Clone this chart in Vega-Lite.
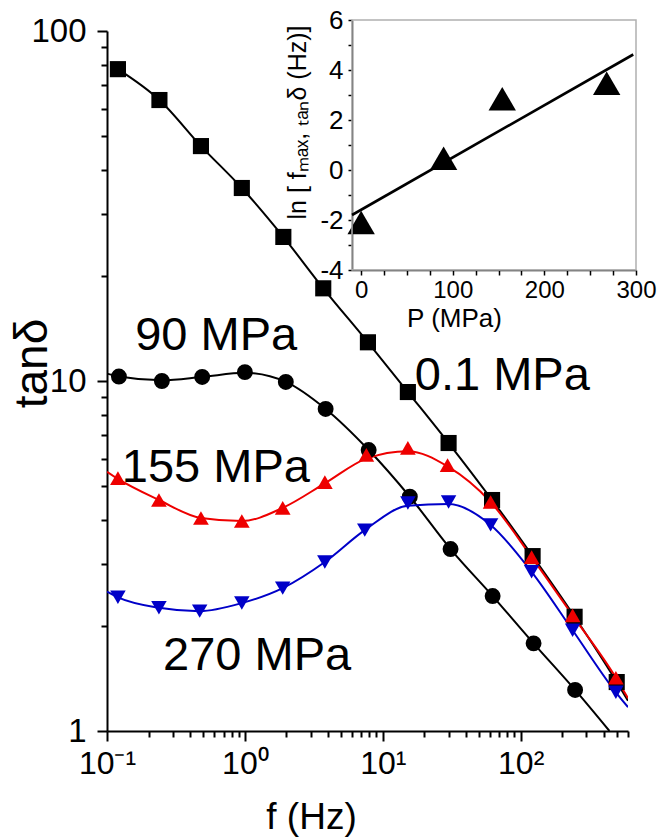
{
  "$schema": "https://vega.github.io/schema/vega-lite/v6.json",
  "width": 521,
  "height": 700,
  "autosize": {"type": "none"},
  "padding": {"left": 107, "top": 31, "right": 29, "bottom": 106},
  "background": "white",
  "config": {
    "view": {"stroke": null},
    "font": "Liberation Sans",
    "axis": {
      "grid": false,
      "domainColor": "black",
      "tickColor": "black",
      "labelColor": "black",
      "titleColor": "black",
      "labelFont": "Liberation Sans",
      "titleFont": "Liberation Sans",
      "titleFontWeight": "normal",
      "labelOverlap": false,
      "labelBound": false,
      "labelFlush": false
    }
  },
  "datasets": {
    "points": [
      {"series": "0.1 MPa", "f": 0.12, "tan": 77.8},
      {"series": "0.1 MPa", "f": 0.24, "tan": 63.5},
      {"series": "0.1 MPa", "f": 0.48, "tan": 46.9},
      {"series": "0.1 MPa", "f": 0.95, "tan": 35.6},
      {"series": "0.1 MPa", "f": 1.9, "tan": 25.8},
      {"series": "0.1 MPa", "f": 3.7, "tan": 18.4},
      {"series": "0.1 MPa", "f": 7.8, "tan": 12.9},
      {"series": "0.1 MPa", "f": 15.2, "tan": 9.3},
      {"series": "0.1 MPa", "f": 30, "tan": 6.65},
      {"series": "0.1 MPa", "f": 62, "tan": 4.57},
      {"series": "0.1 MPa", "f": 122, "tan": 3.16},
      {"series": "0.1 MPa", "f": 246, "tan": 2.12},
      {"series": "0.1 MPa", "f": 497, "tan": 1.38},
      {"series": "90 MPa", "f": 0.122, "tan": 10.3},
      {"series": "90 MPa", "f": 0.25, "tan": 10.0},
      {"series": "90 MPa", "f": 0.49, "tan": 10.27},
      {"series": "90 MPa", "f": 1.0, "tan": 10.6},
      {"series": "90 MPa", "f": 1.98, "tan": 9.94},
      {"series": "90 MPa", "f": 3.85, "tan": 8.32},
      {"series": "90 MPa", "f": 7.9, "tan": 6.35},
      {"series": "90 MPa", "f": 15.7, "tan": 4.67},
      {"series": "90 MPa", "f": 31, "tan": 3.31},
      {"series": "90 MPa", "f": 62.6, "tan": 2.43},
      {"series": "90 MPa", "f": 124, "tan": 1.78},
      {"series": "90 MPa", "f": 248, "tan": 1.31},
      {"series": "155 MPa", "f": 0.12, "tan": 5.28},
      {"series": "155 MPa", "f": 0.238, "tan": 4.57},
      {"series": "155 MPa", "f": 0.48, "tan": 4.06},
      {"series": "155 MPa", "f": 0.95, "tan": 3.98},
      {"series": "155 MPa", "f": 1.88, "tan": 4.34},
      {"series": "155 MPa", "f": 3.8, "tan": 5.14},
      {"series": "155 MPa", "f": 7.6, "tan": 6.15},
      {"series": "155 MPa", "f": 15.2, "tan": 6.44},
      {"series": "155 MPa", "f": 29.5, "tan": 5.75},
      {"series": "155 MPa", "f": 60.5, "tan": 4.51},
      {"series": "155 MPa", "f": 120, "tan": 3.14},
      {"series": "155 MPa", "f": 238, "tan": 2.14},
      {"series": "155 MPa", "f": 490, "tan": 1.42},
      {"series": "270 MPa", "f": 0.12, "tan": 2.41},
      {"series": "270 MPa", "f": 0.238, "tan": 2.25},
      {"series": "270 MPa", "f": 0.47, "tan": 2.2},
      {"series": "270 MPa", "f": 0.95, "tan": 2.32},
      {"series": "270 MPa", "f": 1.88, "tan": 2.56},
      {"series": "270 MPa", "f": 3.8, "tan": 3.04},
      {"series": "270 MPa", "f": 7.4, "tan": 3.75},
      {"series": "270 MPa", "f": 15.2, "tan": 4.48},
      {"series": "270 MPa", "f": 30, "tan": 4.51},
      {"series": "270 MPa", "f": 60.5, "tan": 3.88},
      {"series": "270 MPa", "f": 120, "tan": 2.85},
      {"series": "270 MPa", "f": 238, "tan": 1.94},
      {"series": "270 MPa", "f": 490, "tan": 1.29}
    ],
    "curves": [
      {"series": "0.1 MPa", "f": 0.12, "tan": 77.8},
      {"series": "0.1 MPa", "f": 0.24, "tan": 63.5},
      {"series": "0.1 MPa", "f": 0.48, "tan": 46.9},
      {"series": "0.1 MPa", "f": 0.95, "tan": 35.6},
      {"series": "0.1 MPa", "f": 1.9, "tan": 25.8},
      {"series": "0.1 MPa", "f": 3.7, "tan": 18.4},
      {"series": "0.1 MPa", "f": 7.8, "tan": 12.9},
      {"series": "0.1 MPa", "f": 15.2, "tan": 9.3},
      {"series": "0.1 MPa", "f": 30, "tan": 6.65},
      {"series": "0.1 MPa", "f": 62, "tan": 4.57},
      {"series": "0.1 MPa", "f": 122, "tan": 3.16},
      {"series": "0.1 MPa", "f": 246, "tan": 2.12},
      {"series": "0.1 MPa", "f": 497, "tan": 1.38},
      {"series": "0.1 MPa", "f": 600, "tan": 1.22},
      {"series": "90 MPa", "f": 0.1, "tan": 10.5},
      {"series": "90 MPa", "f": 0.122, "tan": 10.3},
      {"series": "90 MPa", "f": 0.25, "tan": 10.05},
      {"series": "90 MPa", "f": 0.49, "tan": 10.27},
      {"series": "90 MPa", "f": 1.0, "tan": 10.55},
      {"series": "90 MPa", "f": 1.98, "tan": 9.94},
      {"series": "90 MPa", "f": 3.85, "tan": 8.32},
      {"series": "90 MPa", "f": 7.9, "tan": 6.35},
      {"series": "90 MPa", "f": 15.7, "tan": 4.67},
      {"series": "90 MPa", "f": 31, "tan": 3.31},
      {"series": "90 MPa", "f": 62.6, "tan": 2.43},
      {"series": "90 MPa", "f": 124, "tan": 1.78},
      {"series": "90 MPa", "f": 248, "tan": 1.31},
      {"series": "90 MPa", "f": 440, "tan": 1.0},
      {"series": "155 MPa", "f": 0.1, "tan": 5.5},
      {"series": "155 MPa", "f": 0.12, "tan": 5.25},
      {"series": "155 MPa", "f": 0.238, "tan": 4.57},
      {"series": "155 MPa", "f": 0.48, "tan": 4.06},
      {"series": "155 MPa", "f": 0.95, "tan": 3.98},
      {"series": "155 MPa", "f": 1.88, "tan": 4.34},
      {"series": "155 MPa", "f": 3.8, "tan": 5.1},
      {"series": "155 MPa", "f": 7.6, "tan": 6.0},
      {"series": "155 MPa", "f": 15.2, "tan": 6.3},
      {"series": "155 MPa", "f": 29.5, "tan": 5.7},
      {"series": "155 MPa", "f": 60.5, "tan": 4.51},
      {"series": "155 MPa", "f": 120, "tan": 3.14},
      {"series": "155 MPa", "f": 238, "tan": 2.14},
      {"series": "155 MPa", "f": 490, "tan": 1.42},
      {"series": "155 MPa", "f": 600, "tan": 1.24},
      {"series": "270 MPa", "f": 0.1, "tan": 2.5},
      {"series": "270 MPa", "f": 0.12, "tan": 2.41},
      {"series": "270 MPa", "f": 0.238, "tan": 2.25},
      {"series": "270 MPa", "f": 0.47, "tan": 2.2},
      {"series": "270 MPa", "f": 0.95, "tan": 2.32},
      {"series": "270 MPa", "f": 1.88, "tan": 2.56},
      {"series": "270 MPa", "f": 3.8, "tan": 3.04},
      {"series": "270 MPa", "f": 7.4, "tan": 3.75},
      {"series": "270 MPa", "f": 15.2, "tan": 4.4},
      {"series": "270 MPa", "f": 30, "tan": 4.45},
      {"series": "270 MPa", "f": 60.5, "tan": 3.88},
      {"series": "270 MPa", "f": 120, "tan": 2.85},
      {"series": "270 MPa", "f": 238, "tan": 1.94},
      {"series": "270 MPa", "f": 490, "tan": 1.29},
      {"series": "270 MPa", "f": 600, "tan": 1.17}
    ],
    "labels": [
      {"label": "90 MPa", "f": 0.16, "tan": 12.26},
      {"label": "0.1 MPa", "f": 17.06, "tan": 9.43},
      {"label": "155 MPa", "f": 0.128, "tan": 5.14},
      {"label": "270 MPa", "f": 0.255, "tan": 1.49}
    ],
    "inset": [
      {"P": 0, "v": -2.1},
      {"P": 90, "v": 0.47},
      {"P": 154, "v": 2.85},
      {"P": 268, "v": 3.47}
    ],
    "fit": [
      {"P": -10, "v": -1.8},
      {"P": 297, "v": 4.62}
    ]
  },
  "layer": [
    {
      "layer": [
        {
          "data": {"name": "curves"},
          "mark": {"type": "line", "interpolate": "monotone", "strokeWidth": 2, "clip": true},
          "encoding": {
            "x": {
              "field": "f", "type": "quantitative",
              "scale": {"type": "log", "domain": [0.1, 600], "nice": false},
              "axis": {
                "title": "f (Hz)",
                "values": [0.1, 0.2, 0.3, 0.4, 0.5, 0.6, 0.7, 0.8, 0.9, 1, 2, 3, 4, 5, 6, 7, 8, 9, 10, 20, 30, 40, 50, 60, 70, 80, 90, 100, 200, 300, 400, 500, 600],
                "labelExpr": "datum.value == 0.1 ? '10⁻¹' : datum.value == 1 ? '10⁰' : datum.value == 10 ? '10¹' : datum.value == 100 ? '10²' : ''",
                "labelFontSize": 32,
                "labelPadding": 7,
                "tickSize": {"condition": {"test": "datum.value == 0.1 || datum.value == 1 || datum.value == 10 || datum.value == 100", "value": 10}, "value": 6},
                "tickWidth": 2,
                "domainWidth": 2,
                "titleFontSize": 37,
                "titleX": 204,
                "titleY": 97,
                "titleAlign": "center",
                "titleBaseline": "alphabetic"
              }
            },
            "y": {
              "field": "tan", "type": "quantitative",
              "scale": {"type": "log", "domain": [1, 100], "nice": false},
              "axis": {
                "title": "tanδ",
                "values": [1, 2, 3, 4, 5, 6, 7, 8, 9, 10, 20, 30, 40, 50, 60, 70, 80, 90, 100],
                "labelExpr": "(datum.value == 1 || datum.value == 10 || datum.value == 100) ? datum.label : ''",
                "labelFontSize": 33,
                "labelPadding": 11,
                "tickSize": {"condition": {"test": "datum.value == 1 || datum.value == 10 || datum.value == 100", "value": 10}, "value": 6},
                "tickWidth": 2,
                "domainWidth": 2,
                "titleFontSize": 46,
                "titleAngle": -90,
                "titleX": -61,
                "titleY": 332,
                "titleAlign": "center",
                "titleBaseline": "alphabetic"
              }
            },
            "detail": {"field": "series"},
            "color": {
              "field": "series", "type": "nominal", "legend": null,
              "scale": {"domain": ["0.1 MPa", "90 MPa", "155 MPa", "270 MPa"], "range": ["#000000", "#000000", "#ee0000", "#0000c8"]}
            }
          }
        },
        {
          "data": {"name": "points"},
          "mark": {"type": "point", "filled": true, "opacity": 1},
          "encoding": {
            "x": {"field": "f", "type": "quantitative"},
            "y": {"field": "tan", "type": "quantitative"},
            "color": {"field": "series", "type": "nominal", "legend": null},
            "shape": {
              "field": "series", "type": "nominal", "legend": null,
              "scale": {"domain": ["0.1 MPa", "90 MPa", "155 MPa", "270 MPa"], "range": ["square", "circle", "triangle-up", "triangle-down"]}
            },
            "size": {
              "field": "series", "type": "nominal", "legend": null,
              "scale": {"domain": ["0.1 MPa", "90 MPa", "155 MPa", "270 MPa"], "range": [260, 240, 620, 620]}
            }
          }
        },
        {
          "data": {"name": "labels"},
          "mark": {"type": "text", "align": "left", "baseline": "alphabetic", "fontSize": 47, "font": "Liberation Sans", "color": "black"},
          "encoding": {
            "x": {"field": "f", "type": "quantitative"},
            "y": {"field": "tan", "type": "quantitative"},
            "text": {"field": "label"}
          }
        }
      ]
    },
    {
      "layer": [
        {
          "data": {"name": "inset"},
          "mark": {"type": "point", "shape": "triangle-up", "filled": true, "color": "black", "opacity": 1, "size": 750},
          "encoding": {
            "x": {
              "field": "P", "type": "quantitative",
              "scale": {"domain": [-10, 300], "range": [245, 529], "nice": false, "zero": false},
              "axis": {
                "orient": "bottom",
                "offset": -461,
                "title": "P (MPa)",
                "values": [0, 25, 50, 75, 100, 125, 150, 175, 200, 225, 250, 275, 300],
                "labelExpr": "datum.value % 100 == 0 ? datum.label : ''",
                "labelFontSize": 24,
                "labelPadding": 3,
                "tickSize": 5,
                "tickWidth": 1.5,
                "domainWidth": 1.5,
                "titleFontSize": 26,
                "titleX": 347,
                "titleY": 56,
                "titleAlign": "center",
                "titleBaseline": "alphabetic"
              }
            },
            "y": {
              "field": "v", "type": "quantitative",
              "scale": {"domain": [-4, 6], "range": [239, -11], "nice": false, "zero": false},
              "axis": {
                "orient": "left",
                "offset": -245,
                "title": "ln [ fₘₐₓ, ₜₐₙδ (Hz)]",
                "values": [-4, -3, -2, -1, 0, 1, 2, 3, 4, 5, 6],
                "labelExpr": "datum.value % 2 == 0 ? '' + datum.value : ''",
                "labelFontSize": 26,
                "labelPadding": 5,
                "tickSize": 4,
                "tickWidth": 1.5,
                "domainWidth": 1.5,
                "titleFontSize": 25,
                "titleAngle": -90,
                "titleX": -47,
                "titleY": 91,
                "titleAlign": "center",
                "titleBaseline": "alphabetic"
              }
            }
          }
        },
        {
          "data": {"values": [{}]},
          "mark": {"type": "rect", "fill": null, "stroke": "#b0b0b0", "strokeWidth": 1.5},
          "encoding": {
            "x": {"datum": -10, "type": "quantitative"},
            "x2": {"datum": 300},
            "y": {"datum": -4, "type": "quantitative"},
            "y2": {"datum": 6}
          }
        },
        {
          "data": {"name": "fit"},
          "mark": {"type": "line", "color": "black", "strokeWidth": 2.6},
          "encoding": {
            "x": {"field": "P", "type": "quantitative"},
            "y": {"field": "v", "type": "quantitative"}
          }
        }
      ]
    }
  ],
  "resolve": {"scale": {"x": "independent", "y": "independent"}}
}
